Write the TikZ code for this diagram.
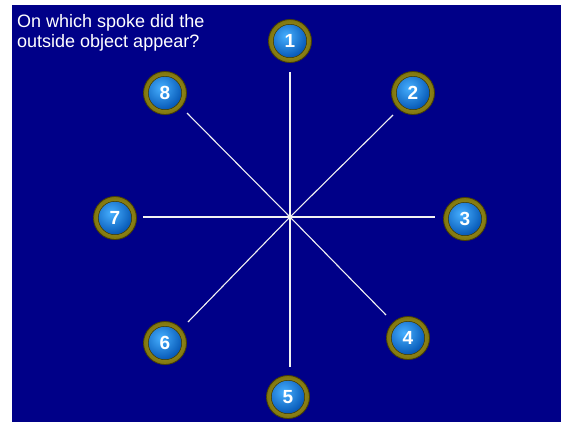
\documentclass[tikz,border=0pt]{standalone}
\usepackage{fontspec}
\setmainfont{Liberation Sans}
\definecolor{bg}{RGB}{0,0,136}
\definecolor{ringc}{RGB}{128,118,14}
\definecolor{ringd}{RGB}{72,64,0}
\definecolor{ringl}{RGB}{175,165,50}
\definecolor{balllight}{RGB}{70,175,255}
\definecolor{balldark}{RGB}{0,80,175}
\tikzset{
  spoke/.style={draw=white!90!gray, line width=1.1pt},
  badge/.style={circle, minimum size=43pt, inner sep=0pt, draw=ringd, line width=0.8pt,
    text=white, font=\bfseries\fontsize{19}{19}\selectfont,
    path picture={
      \shade[inner color=ringl, outer color=ringc] (path picture bounding box.center) circle (21.5pt);
      \begin{scope}
        \clip (path picture bounding box.center) circle (16.5pt);
        \shade[inner color=balllight, outer color=balldark]
          ([shift={(-4pt,5pt)}]path picture bounding box.center) circle (24pt);
      \end{scope}
      \draw[ringd!80!black, line width=0.5pt] (path picture bounding box.center) circle (16.7pt);
    }},
  title/.style={anchor=north west, inner sep=0pt, align=left, text=white,
    font=\fontsize{18}{20}\selectfont}
}
\begin{document}
\begin{tikzpicture}[x=1pt,y=-1pt]
\useasboundingbox (0,0) rectangle (561,421);
\fill[white] (0,0) rectangle (561,421);
\fill[bg] (12,5) rectangle (562,422);
\node[title] (q) at (17,14) {On which spoke did the\\outside object appear?};
\coordinate (O) at (290,217);
\coordinate (e1) at (290,72);
\coordinate (e2) at (393,115);
\coordinate (e3) at (435,217);
\coordinate (e4) at (386,315);
\coordinate (e5) at (290,367);
\coordinate (e6) at (188,322);
\coordinate (e7) at (143,217);
\coordinate (e8) at (187,113);
\foreach \i in {1,...,8} { \draw[spoke] (O) -- (e\i); }
\node[badge] (n1) at (290,41) {1};
\node[badge] (n2) at (413,93) {2};
\node[badge] (n3) at (465,219) {3};
\node[badge] (n4) at (408,338) {4};
\node[badge] (n5) at (288,397) {5};
\node[badge] (n6) at (165,343) {6};
\node[badge] (n7) at (115,218) {7};
\node[badge] (n8) at (165,93) {8};
\end{tikzpicture}
\end{document}
